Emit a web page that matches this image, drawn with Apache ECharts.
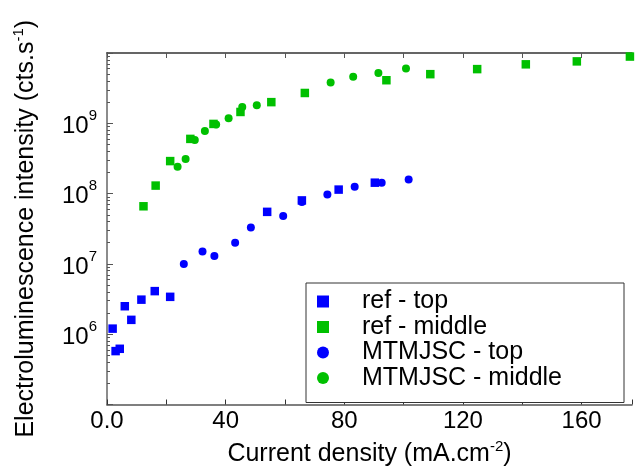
<!DOCTYPE html>
<html>
<head>
<meta charset="utf-8">
<script src="https://cdn.jsdelivr.net/npm/echarts@6/dist/echarts.min.js"></script>
<style>
html,body{margin:0;padding:0;background:#fff;}
#c{width:635px;height:472px;}
</style>
</head>
<body>
<div id="c"></div>
<script>
// ---- data ----
var refTopX = [1.9, 2.9, 4.3, 6.0, 8.2, 11.6, 16.1, 21.3, 54.0, 65.7, 78.1, 90.3];
var refTopY = [1.2e6, 5.75e5, 6.2e5, 2.5e6, 1.6e6, 3.1e6, 4.1e6, 3.4e6, 5.5e7, 8.0e7, 1.14e8, 1.43e8];

var refMidX = [12.3, 16.4, 21.3, 28.1, 35.9, 45.0, 55.4, 66.7, 94.2, 109.0, 124.8, 141.2, 158.4, 176.3];
var refMidY = [6.6e7, 1.3e8, 2.9e8, 6.0e8, 9.8e8, 1.45e9, 2.0e9, 2.7e9, 4.1e9, 5.0e9, 5.9e9, 6.9e9, 7.6e9, 8.9e9];

var mtTopX = [25.9, 32.2, 36.2, 43.2, 48.5, 59.4, 65.7, 74.3, 83.5, 92.6, 101.7];
var mtTopY = [1.0e7, 1.5e7, 1.3e7, 2.0e7, 3.3e7, 4.8e7, 7.6e7, 9.7e7, 1.25e8, 1.43e8, 1.59e8];

var mtMidX = [23.8, 26.5, 29.6, 33.0, 36.8, 41.0, 45.6, 50.5, 75.4, 83.0, 91.5, 100.8];
var mtMidY = [2.4e8, 3.1e8, 5.8e8, 7.8e8, 9.6e8, 1.18e9, 1.7e9, 1.8e9, 3.8e9, 4.6e9, 5.2e9, 6.0e9];

var seriesNames = ['ref - top', 'ref - middle', 'MTMJSC - top', 'MTMJSC - middle'];
var xTickLabels = [0, 40, 80, 120, 160];
var yMajor = [1e6, 1e7, 1e8, 1e9];

function pairs(xs, ys) { return xs.map(function (x, i) { return [x, ys[i]]; }); }

var yMinor = [];
for (var e = 5; e < 10; e++) {
  for (var m = 2; m <= 9; m++) yMinor.push(m * Math.pow(10, e));
}
var yMajorTicks = [1e5, 1e6, 1e7, 1e8, 1e9, 1e10];

var FONT = '"Liberation Sans", Arial, sans-serif';
var BLUE = '#0000ff', GREEN = '#00c000';

var chart = echarts.init(document.getElementById('c'), null, {renderer: 'canvas'});
chart.setOption({
  animation: false,
  backgroundColor: '#fff',
  textStyle: {fontFamily: FONT},
  grid: {left: 107, right: 0, top: 53, bottom: 63, containLabel: false},
  legend: {
    orient: 'vertical',
    left: 306, top: 283,
    data: [
      {name: seriesNames[0], icon: 'rect'},
      {name: seriesNames[1], icon: 'rect'},
      {name: seriesNames[2], icon: 'circle'},
      {name: seriesNames[3], icon: 'circle'}
    ],
    itemWidth: 12, itemHeight: 12, itemGap: 0.5,
    padding: [6, 62, 12, 11],
    borderColor: '#333', borderWidth: 1, borderRadius: 0,
    backgroundColor: '#fff',
    itemStyle: {opacity: 1},
    textStyle: {fontFamily: FONT, fontSize: 25, color: '#000', lineHeight: 24, padding: [0, 0, 0, 28]}
  },
  xAxis: [{
    type: 'value', position: 'bottom', min: 0, max: 177, interval: 20,
    name: 'Current density (mA.cm{s|-2})', nameLocation: 'middle', nameGap: 35,
    nameTextStyle: {fontFamily: FONT, fontSize: 25, color: '#000',
      rich: {s: {fontSize: 15, verticalAlign: 'top', lineHeight: 30, color: '#000'}}},
    axisLine: {lineStyle: {color: '#555', width: 1.5}},
    axisTick: {inside: true, length: 5, lineStyle: {color: '#333', width: 1}},
    axisLabel: {fontFamily: FONT, fontSize: 24, color: '#000', margin: 5,
      formatter: function (v) { return xTickLabels.indexOf(v) >= 0 ? (v === 0 ? '0.0' : String(v)) : ''; }},
    splitLine: {show: false}
  }, {
    type: 'value', position: 'top', min: 0, max: 177, interval: 20,
    axisLine: {lineStyle: {color: '#333', width: 1.5}},
    axisTick: {inside: true, length: 5, lineStyle: {color: '#555', width: 1}},
    axisLabel: {show: false},
    splitLine: {show: false}
  }],
  yAxis: [{
    type: 'log', logBase: 10, min: 1e5, max: 1e10, position: 'left',
    name: 'Electroluminescence intensity (cts.s{s|-1})', nameLocation: 'middle', nameGap: 66,
    nameTextStyle: {fontFamily: FONT, fontSize: 25, color: '#000',
      rich: {s: {fontSize: 15, verticalAlign: 'top', lineHeight: 30, color: '#000'}}},
    axisLine: {lineStyle: {color: '#8c8c8c', width: 2}},
    axisTick: {inside: true, length: 6, customValues: yMajorTicks, lineStyle: {color: '#555', width: 1}},
    axisLabel: {fontFamily: FONT, color: '#000', margin: 10, customValues: yMajor,
      formatter: function (v) { return '{b|10}{s|' + Math.round(Math.log10(v)) + '}'; },
      rich: {
        b: {fontSize: 24, color: '#000', lineHeight: 30, verticalAlign: 'bottom'},
        s: {fontSize: 15, color: '#000', lineHeight: 30, verticalAlign: 'top'}
      }},
    splitLine: {show: false}
  }, {
    type: 'log', logBase: 10, min: 1e5, max: 1e10, position: 'left',
    axisLine: {show: false},
    axisTick: {inside: true, length: 3, customValues: yMinor, lineStyle: {color: '#555', width: 1}},
    axisLabel: {show: false},
    splitLine: {show: false}
  }],
  series: [
    {name: seriesNames[0], type: 'scatter', symbol: 'rect', symbolSize: 8.5, itemStyle: {color: BLUE, opacity: 1}, data: pairs(refTopX, refTopY)},
    {name: seriesNames[1], type: 'scatter', symbol: 'rect', symbolSize: 8.5, itemStyle: {color: GREEN, opacity: 1}, data: pairs(refMidX, refMidY)},
    {name: seriesNames[2], type: 'scatter', symbol: 'circle', symbolSize: 8, itemStyle: {color: BLUE, opacity: 1}, data: pairs(mtTopX, mtTopY)},
    {name: seriesNames[3], type: 'scatter', symbol: 'circle', symbolSize: 8, itemStyle: {color: GREEN, opacity: 1}, data: pairs(mtMidX, mtMidY)}
  ]
});
</script>
</body>
</html>
